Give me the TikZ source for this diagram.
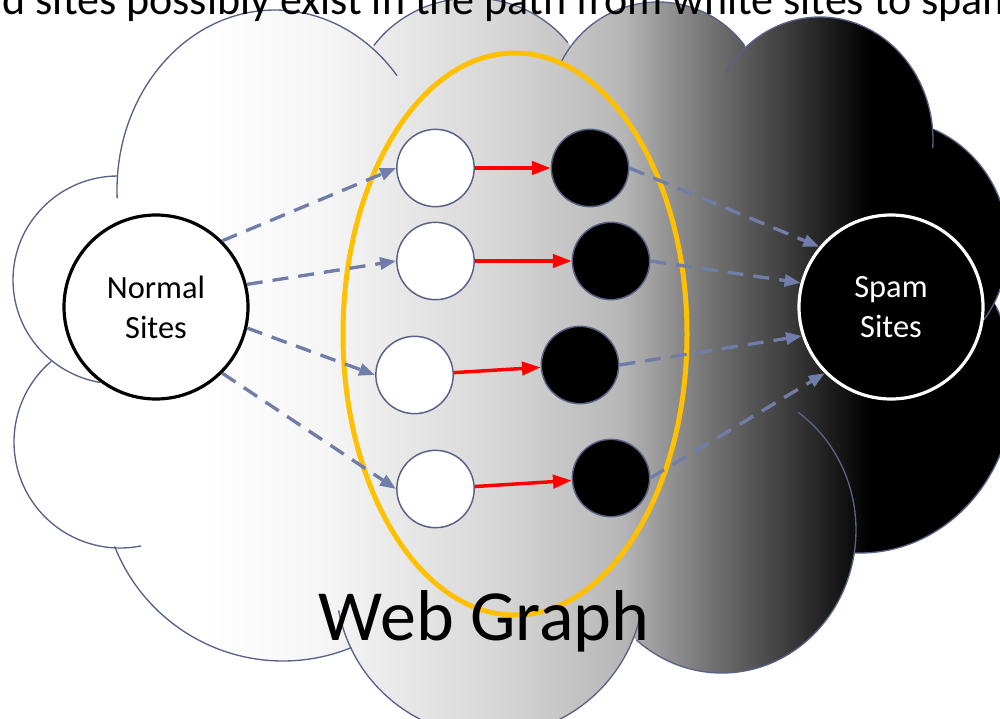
\documentclass[tikz,border=0pt]{standalone}
\usepackage{fontspec}
\setmainfont{Carlito}
\usetikzlibrary{arrows.meta}
\definecolor{cloudline}{RGB}{88,98,135}
\definecolor{linkblue}{RGB}{112,125,168}
\definecolor{groupgold}{RGB}{255,192,0}
% white on the left, black on the right (0..1000px -> 25..75bp)
\pgfdeclarehorizontalshading{webfade}{100bp}{%
  color(0bp)=(white); color(35bp)=(white); color(41.5bp)=(black!4);
  color(50bp)=(black!16); color(56bp)=(black!28); color(60bp)=(black!52);
  color(65bp)=(black!80); color(68.5bp)=(black); color(100bp)=(black)}
\tikzset{
  bumpline/.style={draw=cloudline, line width=1pt},
  goldring/.style={draw=groupgold, line width=3.75pt},
  sitenode/.style={circle, draw=cloudline, line width=1.1pt,
    minimum size=58pt, inner sep=0pt},
  goodsite/.style={sitenode, fill=white},
  badsite/.style={sitenode, fill=black},
  bigsite/.style={circle, line width=2.4pt, minimum size=138pt,
    inner sep=0pt, align=center, font=\fontsize{24.3}{30}\selectfont},
  spamlink/.style={draw=red, line width=2.6pt,
    -{Triangle[length=14pt,width=10pt]}},
  hoplink/.style={draw=linkblue, line width=2.5pt,
    dash pattern=on 12pt off 7.5pt, -{Triangle[length=12pt,width=9pt]}}
}

\begin{document}
\begin{tikzpicture}[x=0.75pt, y=-0.75pt]
  \useasboundingbox (0,0) rectangle (1000,718);
  %
  % ==================================================================
  % Cloud: union of the bumps plus a filler, shaded white -> black
  % ==================================================================
  \begin{scope}
    \clip (118,280) ellipse [x radius=105, y radius=104]
          (120,442) ellipse [x radius=106, y radius=106]
          (283,480) ellipse [x radius=181, y radius=181]
          (490,582) ellipse [x radius=154, y radius=154]
          (722,530) ellipse [x radius=134, y radius=143]
          (860,385) ellipse [x radius=154, y radius=168]
          (885,245) ellipse [x radius=123, y radius=126]
          (820,140) ellipse [x radius=113, y radius=123]
          (658,110) ellipse [x radius=108, y radius=108]
          (472,110) ellipse [x radius=120, y radius=112]
          (275,190) ellipse [x radius=158, y radius=180]
          (500,340) ellipse [x radius=360, y radius=230];
    \shade[shading=webfade] (0,0) rectangle (1000,718);
  \end{scope}
  %
  % outline of the bumps (left, bottom, right, top)
  \draw[bumpline] ([shift={(270:105 and 104)}]118,280)
    arc[start angle=270, end angle=100, x radius=105, y radius=104];
  \draw[bumpline] ([shift={(229.6:106 and 106)}]120,442)
    arc[start angle=229.6, end angle=78.5, x radius=106, y radius=106];
  \draw[bumpline] ([shift={(158.5:181 and 181)}]283,480)
    arc[start angle=158.5, end angle=67.8, x radius=181, y radius=181];
  \draw[bumpline] ([shift={(169.4:154 and 154)}]490,582)
    arc[start angle=169.4, end angle=12.9, x radius=154, y radius=154];
  \draw[bumpline] ([shift={(129.7:134 and 143)}]722,530)
    arc[start angle=129.7, end angle=-55.4, x radius=134, y radius=143];
  \draw[bumpline] ([shift={(91.9:154 and 168)}]860,385)
    arc[start angle=91.9, end angle=-27.9, x radius=154, y radius=168];
  \draw[bumpline] ([shift={(-65.9:123 and 126)}]885,245)
    arc[start angle=-65.9, end angle=36.2, x radius=123, y radius=126];
  \draw[bumpline] ([shift={(-146.4:113 and 123)}]820,140)
    arc[start angle=-146.4, end angle=3.7, x radius=113, y radius=123];
  \draw[bumpline] ([shift={(-153.4:108 and 108)}]658,110)
    arc[start angle=-153.4, end angle=-36.8, x radius=108, y radius=108];
  \draw[bumpline] ([shift={(-144.9:120 and 112)}]472,110)
    arc[start angle=-144.9, end angle=-36.9, x radius=120, y radius=112];
  \draw[bumpline] ([shift={(-182.6:158 and 180)}]275,190)
    arc[start angle=-182.6, end angle=-39.4, x radius=158, y radius=180];
  %
  % ring round the intermediate sites
  \draw[goldring] (515,334) ellipse [x radius=172, y radius=281];
  %
  % ==================================================================
  % Sites
  % ==================================================================
  \node[bigsite, draw=black, fill=white] (normal) at (156,307) {Normal\\Sites};
  \node[bigsite, draw=white, fill=black, text=white] (spam) at (891,307) {Spam\\Sites};
  %
  \node[goodsite] (w1) at (435.5,168) {};
  \node[goodsite] (w2) at (435.5,261) {};
  \node[goodsite] (w3) at (414.5,375) {};
  \node[goodsite] (w4) at (435.5,489) {};
  %
  \node[badsite] (b1) at (590,168) {};
  \node[badsite] (b2) at (611,261) {};
  \node[badsite] (b3) at (580,365) {};
  \node[badsite] (b4) at (611,478) {};
  %
  % ==================================================================
  % Links
  % ==================================================================
  \draw[spamlink] (w1) -- (b1);
  \draw[spamlink] (w2) -- (b2);
  \draw[spamlink] (w3) -- (b3);
  \draw[spamlink] (w4) -- (b4);
  %
  \draw[hoplink] (normal.45) -- (w1.west);
  \draw[hoplink] (normal.14) -- (w2.west);
  \draw[hoplink] (normal.-13) -- (w3.west);
  \draw[hoplink] (normal.-45) -- (w4.west);
  %
  \draw[hoplink] (b1.east) -- (spam.140);
  \draw[hoplink] (b2.east) -- (spam.165);
  \draw[hoplink] (b3.east) -- (spam.-162);
  \draw[hoplink] (b4.east) -- (spam.-135);
  %
  % ==================================================================
  % Texts
  % ==================================================================
  \node[anchor=base, font=\fontsize{54}{65}\selectfont] (webgraph) at (484,640) {Web Graph};
  \node[anchor=base west, font=\fontsize{33}{40}\selectfont] (caption) at (-2,14)
    {d sites possibly exist in the path from white sites to spam};
\end{tikzpicture}
\end{document}
